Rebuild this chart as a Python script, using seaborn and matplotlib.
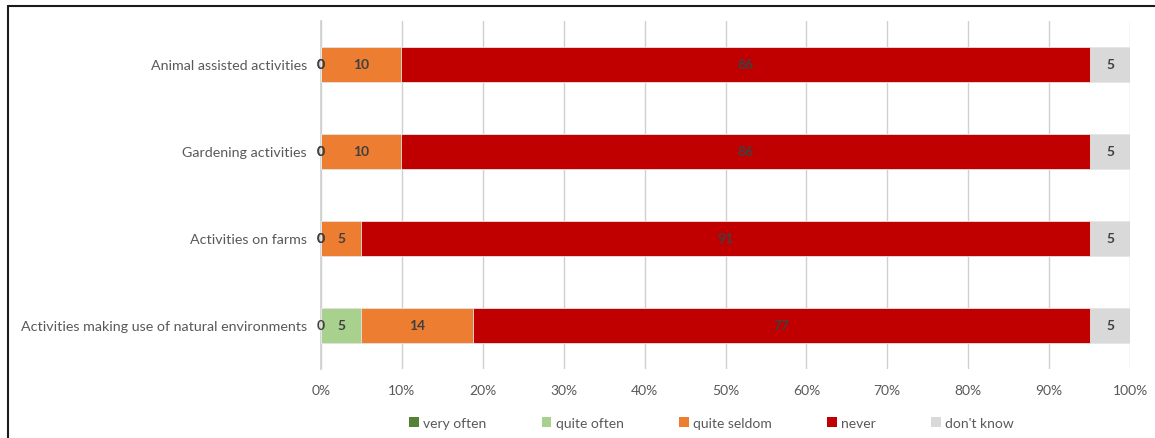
import matplotlib
matplotlib.use("Agg")
import matplotlib.pyplot as plt
import seaborn as sns
import pandas as pd
import numpy as np
from matplotlib.lines import Line2D
from matplotlib.patches import Patch
from matplotlib.ticker import PercentFormatter

categories = ["Animal assisted activities", "Gardening activities",
              "Activities on farms", "Activities making use of natural environments"]
series = ["very often", "quite often", "quite seldom", "never", "don't know"]
very_often = [0, 0, 0, 0]
quite_often = [0, 0, 0, 5]
quite_seldom = [10, 10, 5, 14]
never = [86, 86, 91, 77]
dont_know = [5, 5, 5, 5]
colors = ["#548235", "#A9D18E", "#ED7D31", "#C00000", "#D9D9D9"]

sns.set_theme(style="white")
plt.rcParams['font.family'] = ['Lato', 'DejaVu Sans']

vals = pd.DataFrame({s: v for s, v in zip(series, [very_often, quite_often, quite_seldom, never, dont_know])},
                    index=categories)
totals = vals.sum(axis=1)
pct = vals.div(totals, axis=0) * 100
cum = pct.cumsum(axis=1)

fig = plt.figure(figsize=(11.55, 4.39), dpi=100)
ax = fig.add_axes([321/1155, 1-370/439, (1130-321)/1155, (370-22)/439])

for i in range(len(series) - 1, -1, -1):
    s = series[i]
    df = pd.DataFrame({"cat": categories, "end": cum[s].values})
    sns.barplot(data=df, y="cat", x="end", orient="h", color=colors[i], width=0.4,
                saturation=1, ax=ax, edgecolor="#e6e6e6", linewidth=0.6, zorder=3)

# labels
for j, c in enumerate(categories):
    for i, s in enumerate(series):
        start = cum[s].iloc[j] - pct[s].iloc[j]
        center = start + pct[s].iloc[j] / 2
        ax.text(center, j, f"{vals[s].iloc[j]}", ha="center", va="center",
                fontsize=10, fontweight="bold", color="#404040", zorder=5)

ax.set_xlim(0, 100)
ax.set_ylim(3.5, -0.5)
ax.set_xticks(np.arange(0, 101, 10))
ax.xaxis.set_major_formatter(PercentFormatter(decimals=0))
ax.grid(axis="x", color="#d0d0d0", linewidth=1, zorder=0)
ax.set_axisbelow(True)
for sp in ["top", "right", "bottom"]:
    ax.spines[sp].set_visible(False)
ax.spines["left"].set_color("#d0d0d0")
ax.spines["left"].set_zorder(1)
ax.set_xlabel("")
ax.set_ylabel("")
ax.tick_params(axis="x", colors="#595959", labelsize=10, length=0, pad=11)
ax.tick_params(axis="y", colors="#595959", labelsize=10.3, length=0, pad=10)

handles = [Patch(facecolor=c, edgecolor="none", label=s) for c, s in zip(colors, series)]
fig.legend(handles=handles, loc="center", bbox_to_anchor=(0.616, 1-424/439), ncol=5,
           frameon=False, fontsize=10, handlelength=0.7, handleheight=0.7,
           handletextpad=0.3, columnspacing=4.0, labelcolor="#595959")

# figure frame (left and top edges)
fig.add_artist(Line2D([8/1155, 8/1155], [0, 1-7/439], color="#1a1a1a", linewidth=1.5, transform=fig.transFigure))
fig.add_artist(Line2D([8/1155, 1], [1-7/439, 1-7/439], color="#1a1a1a", linewidth=1.5, transform=fig.transFigure))

fig.savefig("out.png", dpi=100)
